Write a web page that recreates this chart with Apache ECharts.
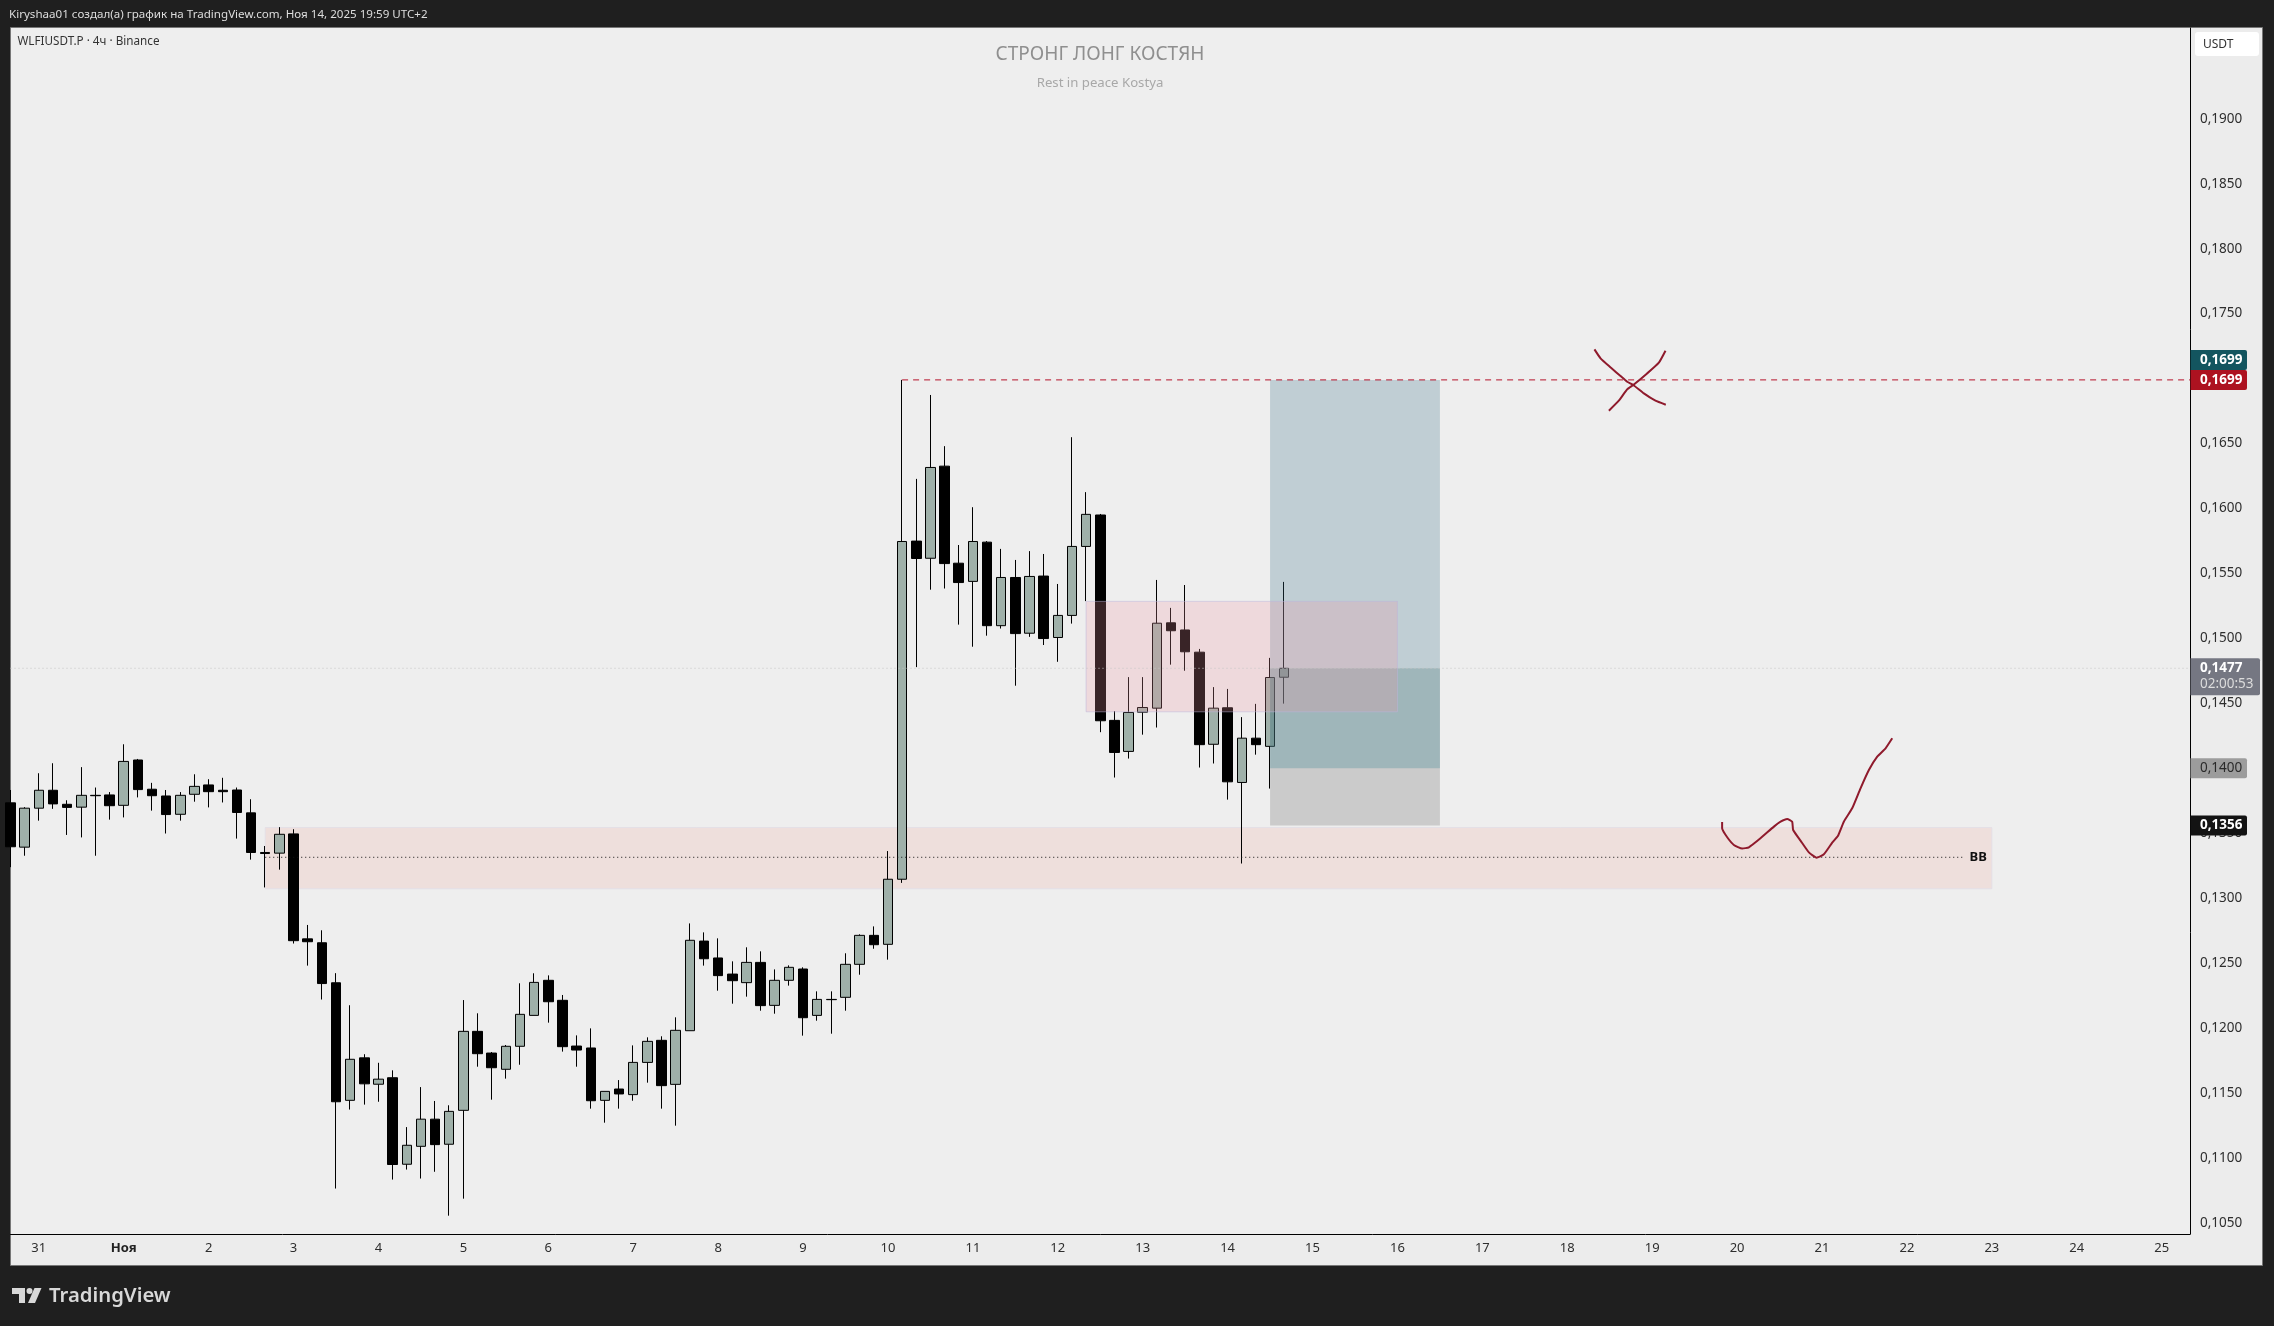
<!DOCTYPE html>
<html>
<head>
<meta charset="utf-8">
<script src="https://cdn.jsdelivr.net/npm/echarts@6/dist/echarts.min.js"></script>
<style>
    html, body { margin: 0; padding: 0; background: #1f1f1f; }
    #main { width: 2274px; height: 1326px; }
</style>
</head>
<body>
<div id="main"></div>
<script>
// 4h candles, index 0 is the one cut off by the left edge
const opens = [.13734,.13393,.13693,.13831,.13723,.13701,.13792,.13795,.13715,.14064,
    .13839,.13787,.13646,.138,.13872,.13831,.13833,.13657,.13352,.13347,
    .13495,.12687,.12657,.12349,.11444,.11771,.11568,.11618,.10952,.1109,
    .11299,.11106,.11367,.11975,.11808,.11683,.1186,.12098,.12368,.12214,
    .11862,.11847,.11444,.11531,.11488,.11736,.11906,.11567,.1198,.1267,
    .1254,.12416,.1235,.12506,.12175,.12368,.12455,.12098,.12221,.12237,
    .12491,.12714,.12645,.13146,.15749,.15617,.16326,.15579,.15439,.15741,
    .15098,.15469,.1504,.1548,.15007,.15177,.15708,.1595,.14369,.1413,
    .14432,.14463,.1512,.15065,.14894,.14185,.14466,.13891,.14232,.14169,
    .14701];
const closes = [.13396,.13693,.13831,.13726,.13699,.13792,.13789,.13712,.14053,.13836,
    .13789,.13644,.13792,.13861,.1382,.1382,.1366,.13352,.13344,.13492,
    .12673,.12665,.12343,.11433,.1176,.11571,.11607,.1095,.11098,.11299,
    .11103,.11359,.11975,.11803,.11695,.1186,.12106,.12352,.12203,.11857,
    .11831,.11441,.11513,.11493,.11736,.11898,.11557,.11983,.12676,.12534,
    .12404,.12365,.12506,.12173,.12368,.12468,.1208,.12221,.12219,.12491,
    .12714,.12642,.13146,.15746,.15615,.16316,.15576,.1543,.15746,.15098,
    .15469,.15037,.15477,.14999,.15177,.15708,.15955,.14366,.14122,.1443,
    .14468,.15117,.15059,.14897,.14182,.14463,.13896,.14232,.14182,.14699,
    .1477];
const lows = [.13239,.13327,.13597,.13688,.13487,.13468,.13327,.13605,.13622,.13776,
    .13674,.13498,.13597,.13743,.13699,.13737,.13459,.13297,.13083,.1322,
    .12651,.12481,.1222,.10765,.11373,.11411,.11433,.10834,.10911,.10842,
    .10894,.10556,.10687,.11703,.11449,.11611,.11718,.12098,.12042,.11819,
    .11703,.1138,.11272,.1138,.11441,.1158,.1138,.11249,.1198,.12481,
    .12288,.12188,.12242,.12134,.12111,.12327,.11942,.12057,.11957,.12134,
    .12411,.12611,.12527,.13118,.14779,.15375,.15384,.15106,.14936,.15021,
    .15076,.14636,.15012,.14949,.1482,.15114,.15287,.14278,.13929,.14075,
    .14259,.14314,.14798,.14751,.14006,.14037,.13759,.13267,.14105,.13844,
    .14498];
const highs = [.13833,.13701,.13962,.14039,.13754,.14009,.13852,.13817,.14185,.14072,
    .13888,.13833,.13817,.13954,.13916,.13927,.13852,.13762,.13402,.13547,
    .13531,.12794,.12753,.12423,.12176,.11799,.11733,.11675,.11238,.11546,
    .11439,.11406,.12216,.12114,.11816,.1187,.12345,.12422,.12406,.12255,
    .11944,.11998,.11513,.116,.11867,.11929,.11937,.12083,.12806,.12737,
    .12691,.12514,.12622,.12591,.12452,.12483,.12468,.12283,.12283,.12576,
    .12722,.12783,.13363,.1699,.16228,.16874,.1648,.15719,.1601,.15749,
    .15689,.15604,.15672,.1565,.15419,.16549,.16126,.15958,.14441,.14702,
    .14702,.1545,.15235,.15411,.14919,.14625,.14611,.14394,.14496,.1485,
    .15435];

const dayLabels = ['31','Ноя','2','3','4','5','6','7','8','9','10','11','12','13','14','15','16','17','18','19','20','21','22','23','24','25'];
const priceTicks = [.105,.11,.115,.12,.125,.13,.135,.14,.145,.15,.155,.16,.165,.17,.175,.18,.185,.19];

const lastBar = 154;
const axisBottom = .10415;
const axisTop = .19699;

const highLevel = .1699;
const lastPrice = .1477;
const entryPrice = .14;
const stopPrice = .1356;
const bbLevel = .13315;
const bbZone = [.13544, .13073];
const pinkZone = [.15285, .14435];

// hand drawn strokes, [bar, price]
const checkStroke = [[120.94,.13587],[120.94,.13538],[121.3,.13469],[121.77,.1341],[122.36,.13382],[122.83,.13392],
    [123.65,.13461],[124.6,.13551],[125.07,.13589],[125.54,.1361],[125.89,.13589],[125.96,.13525],[126.48,.13443],
    [127.07,.13353],[127.61,.13312],[128.13,.13338],[128.72,.13428],[129.12,.13479],[129.54,.13589],[130.13,.13692],
    [130.72,.13846],[131.31,.13987],[131.9,.1409],[132.49,.14154],[132.96,.14231]];
const crossStrokeA = [[111.92,.17225],[112.35,.17156],[113.05,.17087],[113.76,.1702],[114.23,.16976],[114.66,.16951],
    [115.41,.16886],[116.23,.1683],[116.96,.16799]];
const crossStrokeB = [[112.94,.16753],[113.64,.1683],[114.23,.16917],[114.66,.16951],[115.64,.1704],[116.47,.17123],[116.94,.17215]];

const fontName = '"Noto Sans", sans-serif';

let candleData = opens.map(function (o, i) {
    return [o, closes[i], lows[i], highs[i]];
});
let xCategories = [];
for (let i = 0; i <= lastBar; i++) {
    xCategories.push(i >= 2 && (i - 2) % 6 === 0 ? dayLabels[(i - 2) / 6] : '');
}

function formatPrice(v) {
    return v.toFixed(4).replace('.', ',');
}

function strokeSeries(points) {
    return {
        type: 'line', xAxisIndex: 1, yAxisIndex: 0, z: 5, data: points,
        showSymbol: false, silent: true, smooth: .15,
        lineStyle: { color: '#8f1a2c', width: 2 }
    };
}

function levelSeries(points, color, dash, width) {
    return {
        type: 'line', xAxisIndex: 1, yAxisIndex: 0, z: 4, data: points,
        showSymbol: false, silent: true,
        lineStyle: { color: color, type: dash, width: width }
    };
}

function zone(x0, x1, p0, p1, fill, border) {
    return [
        { xAxis: x0, yAxis: p0, itemStyle: { color: fill, borderColor: border || 'transparent', borderWidth: border ? 1 : 0 } },
        { xAxis: x1, yAxis: p1 }
    ];
}

let bbLine = levelSeries([[18, bbLevel], [138, bbLevel]], '#111', [1, 3], 1);
bbLine.endLabel = { show: true, formatter: 'BB', color: '#111', fontFamily: fontName, fontSize: 13, fontWeight: 'bold', distance: 6 };

let chart = echarts.init(document.getElementById('main'));
chart.setOption({
    animation: false,
    backgroundColor: 'transparent',
    grid: { left: 10.5, right: 84, top: 28, bottom: 92, containLabel: false },
    xAxis: [{
        type: 'category', data: xCategories, boundaryGap: false,
        axisLine: { onZero: false, lineStyle: { color: '#000', width: 1 } },
        axisTick: { show: false },
        splitLine: { show: false },
        axisLabel: {
            interval: 0, margin: 8, color: '#2e2e2e', fontFamily: fontName, fontSize: 13,
            formatter: function (v) { return v === 'Ноя' ? '{b|Ноя}' : v; },
            rich: { b: { fontWeight: 'bold', color: '#222', fontFamily: fontName, fontSize: 13 } }
        }
    }, {
        type: 'value', min: 0, max: lastBar, show: false
    }],
    yAxis: [{
        type: 'value', position: 'right', min: axisBottom, max: axisTop,
        axisLine: { show: true, onZero: false, lineStyle: { color: '#000', width: 1 } },
        axisTick: { show: false },
        splitLine: { show: false },
        axisLabel: {
            customValues: priceTicks, margin: 10, color: '#2e2e2e', fontFamily: fontName, fontSize: 13.5,
            showMinLabel: true, showMaxLabel: true,
            formatter: formatPrice
        }
    }],
    series: [
        {
            type: 'line', xAxisIndex: 1, yAxisIndex: 0, data: [], z: 1,
            markArea: { silent: true, z: 1, data: [zone(18, 140, bbZone[0], bbZone[1], '#eedfdc', '#e4dfe6')] }
        },
        {
            type: 'candlestick', xAxisIndex: 0, yAxisIndex: 0, z: 2, data: candleData, barWidth: 10, clip: true,
            itemStyle: { color: '#9fb0a9', color0: '#000', borderColor: '#000', borderColor0: '#000', borderWidth: 1 }
        },
        {
            type: 'line', xAxisIndex: 1, yAxisIndex: 0, data: [], z: 3,
            markArea: {
                silent: true, z: 3,
                data: [
                    zone(89, 101, highLevel, entryPrice, 'rgba(54,110,134,.25)'),
                    zone(89, 101, lastPrice, entryPrice, 'rgba(82,126,125,.3)'),
                    zone(89, 101, entryPrice, stopPrice, 'rgba(98,98,98,.25)'),
                    zone(76, 98, pinkZone[0], pinkZone[1], 'rgba(238,150,165,.24)', 'rgba(190,180,220,.5)')
                ]
            }
        },
        levelSeries([[0, lastPrice], [lastBar, lastPrice]], '#c4c4c4', [1, 3], 1),
        levelSeries([[63, highLevel], [lastBar, highLevel]], '#b5122a', [6, 5], 1),
        bbLine,
        strokeSeries(checkStroke),
        strokeSeries(crossStrokeA),
        strokeSeries(crossStrokeB)
    ]
});

function priceY(p) {
    return chart.convertToPixel({ yAxisIndex: 0 }, p);
}

// tag on the price scale, shift moves it off its own level when two tags collide
function priceTag(p, bg, color, shift, bold) {
    let y = priceY(p) + (shift || 0);
    return [
        { type: 'rect', z: 50, shape: { x: 2190.5, y: y - 10, width: 56.5, height: 20, r: [0, 2, 2, 0] }, style: { fill: bg } },
        { type: 'text', z: 51, style: { x: 2200, y: y, text: formatPrice(p), fill: color, font: (bold ? 'bold ' : '') + '13.5px ' + fontName, textVerticalAlign: 'middle' } }
    ];
}

function label(x, y, text, color, font, align) {
    return { type: 'text', z: 51, style: { x: x, y: y, text: text, fill: color, font: font + ' ' + fontName, textAlign: align || 'left', textVerticalAlign: 'middle' } };
}

let lastY = priceY(lastPrice);
let overlay = [
    { type: 'rect', z: -5, shape: { x: 10.5, y: 27.5, width: 2252, height: 1238 }, style: { fill: '#eeeeee', stroke: '#777', lineWidth: 1 } },
    { type: 'rect', z: -4, shape: { x: 2191, y: 28, width: 71, height: 1237 }, style: { fill: '#ececec' } },
    { type: 'rect', z: -4, shape: { x: 11, y: 1235, width: 2251, height: 30 }, style: { fill: '#ececec' } },
    label(9, 15, 'Kiryshaa01 создал(а) график на TradingView.com, Ноя 14, 2025 19:59 UTC+2', '#dddddd', '11.6px'),
    label(17.5, 42, 'WLFIUSDT.P · 4ч · Binance', '#333', '11.7px'),
    label(1100, 55, 'СТРОНГ ЛОНГ КОСТЯН', '#8f8f8f', '19px', 'center'),
    label(1100, 83, 'Rest in peace Kostya', '#a8a8a8', '13.2px', 'center'),
    { type: 'rect', z: 50, shape: { x: 2195, y: 32, width: 64, height: 24, r: 3 }, style: { fill: '#fff' } },
    label(2203, 45, 'USDT', '#333', '12px'),
    { type: 'rect', z: 50, shape: { x: 2190.5, y: lastY - 10, width: 69.5, height: 37, r: [0, 2, 2, 0] }, style: { fill: '#757782' } },
    label(2200, lastY, formatPrice(lastPrice), '#fff', 'bold 13.5px'),
    label(2200, lastY + 16, '02:00:53', '#dcdcdc', '13.5px'),
    // logo
    { type: 'polygon', z: 50, shape: { points: [[12, 1288], [25, 1288], [25, 1303], [19, 1303], [19, 1294], [12, 1294]] }, style: { fill: '#d8d8d8' } },
    { type: 'circle', z: 50, shape: { cx: 29.5, cy: 1291, r: 3 }, style: { fill: '#d8d8d8' } },
    { type: 'polygon', z: 50, shape: { points: [[34.5, 1288], [41.5, 1288], [35, 1303], [28, 1303]] }, style: { fill: '#d8d8d8' } },
    label(49, 1296, 'TradingView', '#d8d8d8', '600 20.3px')
];
overlay = overlay.concat(
    priceTag(highLevel, '#13555f', '#fff', -20, true),
    priceTag(highLevel, '#ad1220', '#fff', 0, true),
    priceTag(entryPrice, '#9c9c9c', '#2a2a2a', 0, false),
    priceTag(stopPrice, '#131313', '#fff', 0, true)
);
chart.setOption({ graphic: overlay });
</script>
</body>
</html>
